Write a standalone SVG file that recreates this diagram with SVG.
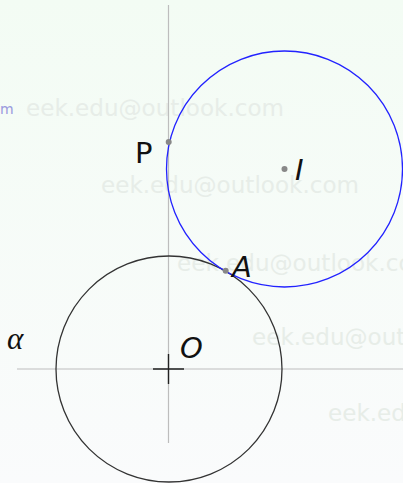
<svg xmlns="http://www.w3.org/2000/svg" width="403" height="483" viewBox="0 0 403 483">
<defs>
<linearGradient id="bg" x1="0" y1="0" x2="0" y2="1">
<stop offset="0" stop-color="#f3fcf4"/>
<stop offset="1" stop-color="#fafbfc"/>
</linearGradient>
<style>
.wm{font-family:"DejaVu Sans",sans-serif;font-size:23px;fill:#e7ede8}
.axis{stroke:#bdbdbd;stroke-width:1.2;fill:none}
.lbl{font-family:"DejaVu Sans","Liberation Sans",sans-serif;font-size:29px;fill:#111}
.it{font-style:italic}
.pt{fill:#888}
</style>
</defs>
<rect width="403" height="483" fill="url(#bg)"/>
<g id="watermarks">
<text x="0" y="114" style="font-family:'DejaVu Sans',sans-serif;font-size:14px;fill:#9a9ade">m</text>
<text class="wm" x="26" y="116" textLength="258" lengthAdjust="spacingAndGlyphs">eek.edu@outlook.com</text>
<text class="wm" x="101" y="193" textLength="258" lengthAdjust="spacingAndGlyphs">eek.edu@outlook.com</text>
<text class="wm" x="177" y="271" textLength="258" lengthAdjust="spacingAndGlyphs">eek.edu@outlook.com</text>
<text class="wm" x="252" y="345" textLength="258" lengthAdjust="spacingAndGlyphs">eek.edu@outlook.com</text>
<text class="wm" x="328" y="421" textLength="258" lengthAdjust="spacingAndGlyphs">eek.edu@outlook.com</text>
</g>
<g id="connectors">
<line class="axis" x1="168.5" y1="5" x2="168.5" y2="443"/>
<line class="axis" x1="17" y1="369" x2="403" y2="369"/>
</g>
<g id="circle-O">
<circle cx="169" cy="369" r="113" fill="none" stroke="#333" stroke-width="1.3"/>
<path d="M153 369H184M168.5 354V384" stroke="#222" stroke-width="1.4" fill="none"/>
<text class="lbl it" x="180" y="358">O</text>
</g>
<g id="circle-I">
<circle cx="284.5" cy="169" r="118" fill="none" stroke="#2222ff" stroke-width="1.3"/>
<circle class="pt" cx="284.5" cy="169" r="3"/>
<text class="lbl it" x="295" y="180">I</text>
</g>
<g id="point-P">
<circle class="pt" cx="168.7" cy="142" r="3"/>
<text class="lbl" x="135" y="163">P</text>
</g>
<g id="point-A">
<circle class="pt" cx="225.7" cy="270.7" r="3"/>
<text class="lbl it" x="232" y="277">A</text>
</g>
<g id="label-alpha">
<text x="7" y="349" style="font-family:'Liberation Serif',serif;font-style:italic;font-size:31px;fill:#111">α</text>
</g>
</svg>
